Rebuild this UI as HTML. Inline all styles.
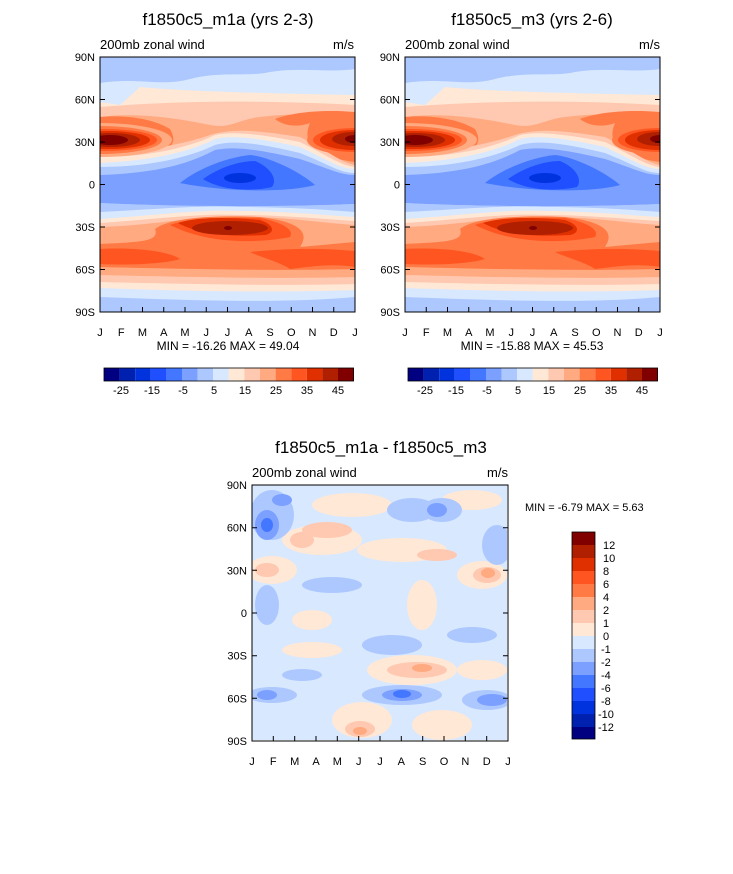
<!DOCTYPE html>
<html><head><style>
body{margin:0;background:#fff;}
svg text{font-family:"Liberation Sans",sans-serif;fill:#000;}
</style></head><body>
<svg width="733" height="869" xmlns="http://www.w3.org/2000/svg">
<defs>
<clipPath id="c1"><rect x="0" y="0" width="255" height="255"/></clipPath>
<g id="field">
 <rect x="0" y="0" width="255" height="255" fill="#adc8ff"/>
 <path d="M0,26 C40,20 60,30 90,22 C120,14 150,20 170,15 C200,10 230,16 255,12 V60 H0Z" fill="#d8e8ff"/>
 <path d="M0,45 L20,48 L40,30 C80,34 150,36 255,38 V80 H0Z" fill="#ffe8d6"/>
 <path d="M0,50 C60,45 150,42 255,48 V90 H0Z" fill="#ffc8b0"/>
 <path d="M0,60 C40,55 80,62 110,68 C130,72 140,62 160,60 C200,55 230,58 255,58 V110 H0Z" fill="#ffaa80"/>
 <path d="M0,60 C20,58 50,60 70,72 C80,90 70,100 0,103Z" fill="#ff7a45"/>
 <path d="M255,55 C220,52 190,56 175,62 C185,70 200,70 210,66 C200,90 220,100 255,105Z" fill="#ff7a45"/>
 <path d="M0,95 C50,95 90,85 110,78 C130,72 150,72 200,80 C230,95 240,105 255,108 V200 H0Z" fill="#ffc8b0"/>
 <path d="M0,100 C50,100 90,90 115,78 C130,75 150,75 200,85 C230,100 240,108 255,110 V200 H0Z" fill="#ffe8d6"/>
 <path d="M0,106 C50,104 90,95 115,82 C130,79 150,79 200,90 C230,104 240,112 255,112 V200 H0Z" fill="#d8e8ff"/>
 <path d="M0,110 C50,110 90,100 115,88 C130,84 150,84 200,96 C230,108 240,116 255,116 V200 H0Z" fill="#adc8ff"/>
 <path d="M0,118 C60,116 90,106 115,93 C130,90 150,90 200,102 C230,112 240,118 255,118 V147 C180,150 80,150 0,146Z" fill="#7ba0ff"/>
 <path d="M80,126 C100,110 130,100 150,98 C170,100 200,115 215,128 C190,135 130,136 80,126Z" fill="#4477ff"/>
 <path d="M103,122 C120,110 140,104 155,104 C170,110 178,122 172,130 C150,135 120,133 103,122Z" fill="#1f4fff"/>
 <ellipse cx="140" cy="121" rx="16" ry="5" fill="#0033dd"/>
 <ellipse cx="0" cy="83" rx="72" ry="17" fill="#ffaa80"/>
 <ellipse cx="0" cy="83" rx="62" ry="14" fill="#ff7a45"/>
 <ellipse cx="5" cy="83" rx="52" ry="11" fill="#ff5520"/>
 <ellipse cx="8" cy="83" rx="42" ry="9" fill="#e03000"/>
 <ellipse cx="10" cy="83" rx="30" ry="7" fill="#b02000"/>
 <ellipse cx="10" cy="83" rx="18" ry="5" fill="#800000"/>
 <ellipse cx="255" cy="83" rx="48" ry="15" fill="#ff7a45"/>
 <ellipse cx="255" cy="83" rx="42" ry="12" fill="#ff5520"/>
 <ellipse cx="255" cy="83" rx="35" ry="10" fill="#e03000"/>
 <ellipse cx="255" cy="82" rx="23" ry="7" fill="#b02000"/>
 <ellipse cx="255" cy="82" rx="10" ry="4" fill="#800000"/>
 <path d="M0,146 C80,150 180,150 255,147 V255 H0Z" fill="#adc8ff"/>
 <path d="M0,155 C60,152 100,148 140,150 C180,150 220,152 255,155 V255 H0Z" fill="#d8e8ff"/>
 <path d="M0,162 C60,158 100,152 140,154 C180,154 220,158 255,160 V255 H0Z" fill="#ffe8d6"/>
 <path d="M0,166 C60,162 100,156 140,158 C180,158 220,162 255,164 V255 H0Z" fill="#ffc8b0"/>
 <path d="M0,170 C60,168 80,160 140,160 C190,160 220,166 255,168 V255 H0Z" fill="#ffaa80"/>
 <path d="M55,172 C70,160 120,158 160,160 C200,165 210,175 200,190 L255,185 V215 H0 V187 C40,185 60,185 55,172Z" fill="#ff7a45"/>
 <path d="M0,192 C40,190 70,195 80,202 C60,208 20,208 0,207Z" fill="#ff5520"/>
 <path d="M150,195 C200,190 230,192 255,194 V210 C230,206 210,210 190,212 C180,205 160,200 150,195Z" fill="#ff5520"/>
 <path d="M70,168 C85,162 120,160 160,161 C180,165 195,172 190,180 C160,186 110,188 70,168Z" fill="#ff5520"/>
 <path d="M78,166 C95,160 130,160 160,163 C175,168 175,176 165,178 C130,180 100,178 78,166Z" fill="#e03000"/>
 <ellipse cx="130" cy="171" rx="38" ry="7" fill="#b02000"/>
 <ellipse cx="128" cy="171" rx="4" ry="2" fill="#800000"/>
 <path d="M0,210 C80,212 180,214 255,212 V255 H0Z" fill="#ffaa80"/>
 <path d="M0,218 C80,220 180,222 255,220 V255 H0Z" fill="#ffc8b0"/>
 <path d="M0,225 C80,227 180,229 255,227 V255 H0Z" fill="#ffe8d6"/>
 <path d="M0,231 C80,234 180,236 255,233 V255 H0Z" fill="#d8e8ff"/>
 <path d="M0,240 C80,243 180,247 255,240 V255 H0Z" fill="#adc8ff"/>
</g>
<g id="cb">
 <rect x="0" width="15.6" height="13" fill="#000080"/>
 <rect x="15.6" width="15.6" height="13" fill="#0020b0"/>
 <rect x="31.2" width="15.6" height="13" fill="#0033dd"/>
 <rect x="46.8" width="15.6" height="13" fill="#1f4fff"/>
 <rect x="62.4" width="15.6" height="13" fill="#4477ff"/>
 <rect x="78" width="15.6" height="13" fill="#7ba0ff"/>
 <rect x="93.6" width="15.6" height="13" fill="#adc8ff"/>
 <rect x="109.2" width="15.6" height="13" fill="#d8e8ff"/>
 <rect x="124.8" width="15.6" height="13" fill="#ffe8d6"/>
 <rect x="140.4" width="15.6" height="13" fill="#ffc8b0"/>
 <rect x="156" width="15.6" height="13" fill="#ffaa80"/>
 <rect x="171.6" width="15.6" height="13" fill="#ff7a45"/>
 <rect x="187.2" width="15.6" height="13" fill="#ff5520"/>
 <rect x="202.8" width="15.6" height="13" fill="#e03000"/>
 <rect x="218.4" width="15.6" height="13" fill="#b02000"/>
 <rect x="234" width="15.6" height="13" fill="#800000"/>
 <rect x="0" width="249.6" height="13" fill="none" stroke="#000" stroke-width="0.8"/>
</g>
</defs>

<text x="228" y="25" font-size="17" text-anchor="middle">f1850c5_m1a (yrs 2-3)</text>
<text x="100" y="49" font-size="13">200mb zonal wind</text>
<text x="354" y="49" font-size="13" text-anchor="end">m/s</text>
<g transform="translate(100,57)"><g clip-path="url(#c1)"><use href="#field"/></g>
<rect width="255" height="255" fill="none" stroke="#000"/></g>

<text x="532" y="25" font-size="17" text-anchor="middle">f1850c5_m3 (yrs 2-6)</text>
<text x="405" y="49" font-size="13">200mb zonal wind</text>
<text x="660" y="49" font-size="13" text-anchor="end">m/s</text>
<g transform="translate(405,57)"><g clip-path="url(#c1)"><use href="#field"/></g>
<rect width="255" height="255" fill="none" stroke="#000"/></g>

<g font-size="11">
<g id="axes1" transform="translate(100,57)">
 <g stroke="#000" stroke-width="1">
  <path d="M0,255v-5M21.25,255v-5M42.5,255v-5M63.75,255v-5M85,255v-5M106.25,255v-5M127.5,255v-5M148.75,255v-5M170,255v-5M191.25,255v-5M212.5,255v-5M233.75,255v-5M255,255v-5"/>
  <path d="M0,0h5M0,42.5h5M0,85h5M0,127.5h5M0,170h5M0,212.5h5M0,255h5M255,0h-5M255,42.5h-5M255,85h-5M255,127.5h-5M255,170h-5M255,212.5h-5M255,255h-5"/>
 </g>
 <g text-anchor="middle">
  <text x="0" y="279">J</text><text x="21.25" y="279">F</text><text x="42.5" y="279">M</text><text x="63.75" y="279">A</text><text x="85" y="279">M</text><text x="106.25" y="279">J</text><text x="127.5" y="279">J</text><text x="148.75" y="279">A</text><text x="170" y="279">S</text><text x="191.25" y="279">O</text><text x="212.5" y="279">N</text><text x="233.75" y="279">D</text><text x="255" y="279">J</text>
 </g>
 <g text-anchor="end">
  <text x="-5" y="4">90N</text><text x="-5" y="46.5">60N</text><text x="-5" y="89">30N</text><text x="-5" y="131.5">0</text><text x="-5" y="174">30S</text><text x="-5" y="216.5">60S</text><text x="-5" y="259">90S</text>
 </g>
</g>
<use href="#axes1" transform="translate(305,0)"/>
</g>

<text x="228" y="350" font-size="12" text-anchor="middle">MIN = -16.26 MAX =  49.04</text>
<text x="532" y="350" font-size="12" text-anchor="middle">MIN = -15.88 MAX =  45.53</text>
<use href="#cb" transform="translate(104,368)"/>
<use href="#cb" transform="translate(408,368)"/>
<g font-size="11" text-anchor="middle">
 <text x="121" y="394">-25</text><text x="152" y="394">-15</text><text x="183" y="394">-5</text><text x="214" y="394">5</text><text x="245" y="394">15</text><text x="276" y="394">25</text><text x="307" y="394">35</text><text x="338" y="394">45</text>
 <text x="425" y="394">-25</text><text x="456" y="394">-15</text><text x="487" y="394">-5</text><text x="518" y="394">5</text><text x="549" y="394">15</text><text x="580" y="394">25</text><text x="611" y="394">35</text><text x="642" y="394">45</text>
</g>

<text x="381" y="453" font-size="17" text-anchor="middle">f1850c5_m1a - f1850c5_m3</text>
<text x="252" y="477" font-size="13">200mb zonal wind</text>
<text x="508" y="477" font-size="13" text-anchor="end">m/s</text>
<g transform="translate(252,485)">
 <g clip-path="url(#c1)">
  <rect width="256" height="256" fill="#d8e8ff"/>
  <g fill="#ffe8d6">
   <ellipse cx="100" cy="20" rx="40" ry="12"/><ellipse cx="220" cy="15" rx="30" ry="10"/>
   <ellipse cx="70" cy="55" rx="40" ry="15"/><ellipse cx="150" cy="65" rx="45" ry="12"/>
   <ellipse cx="20" cy="85" rx="25" ry="14"/><ellipse cx="230" cy="90" rx="25" ry="14"/>
   <ellipse cx="170" cy="120" rx="15" ry="25"/><ellipse cx="60" cy="135" rx="20" ry="10"/>
   <ellipse cx="160" cy="185" rx="45" ry="15"/><ellipse cx="60" cy="165" rx="30" ry="8"/>
   <ellipse cx="110" cy="235" rx="30" ry="18"/><ellipse cx="190" cy="240" rx="30" ry="15"/>
   <ellipse cx="230" cy="185" rx="25" ry="10"/>
  </g>
  <g fill="#ffc8b0">
   <ellipse cx="75" cy="45" rx="25" ry="8"/><ellipse cx="185" cy="70" rx="20" ry="6"/>
   <ellipse cx="235" cy="90" rx="14" ry="8"/><ellipse cx="15" cy="85" rx="12" ry="7"/>
   <ellipse cx="165" cy="185" rx="30" ry="8"/><ellipse cx="108" cy="244" rx="15" ry="8"/>
   <ellipse cx="50" cy="55" rx="12" ry="8"/>
  </g>
  <g fill="#ffaa80"><ellipse cx="236" cy="88" rx="7" ry="5"/><ellipse cx="108" cy="246" rx="7" ry="4"/><ellipse cx="170" cy="183" rx="10" ry="4"/></g>
  <g fill="#adc8ff">
   <ellipse cx="20" cy="30" rx="22" ry="25"/><ellipse cx="160" cy="25" rx="25" ry="12"/>
   <ellipse cx="190" cy="25" rx="20" ry="12"/><ellipse cx="245" cy="60" rx="15" ry="20"/>
   <ellipse cx="80" cy="100" rx="30" ry="8"/><ellipse cx="15" cy="120" rx="12" ry="20"/>
   <ellipse cx="140" cy="160" rx="30" ry="10"/><ellipse cx="220" cy="150" rx="25" ry="8"/>
   <ellipse cx="20" cy="210" rx="25" ry="8"/><ellipse cx="150" cy="210" rx="40" ry="10"/>
   <ellipse cx="235" cy="215" rx="25" ry="10"/><ellipse cx="50" cy="190" rx="20" ry="6"/>
  </g>
  <g fill="#7ba0ff">
   <ellipse cx="15" cy="40" rx="12" ry="15"/><ellipse cx="185" cy="25" rx="10" ry="7"/>
   <ellipse cx="30" cy="15" rx="10" ry="6"/><ellipse cx="150" cy="210" rx="20" ry="6"/>
   <ellipse cx="240" cy="215" rx="15" ry="6"/><ellipse cx="15" cy="210" rx="10" ry="5"/>
  </g>
  <g fill="#4477ff"><ellipse cx="15" cy="40" rx="6" ry="7"/><ellipse cx="150" cy="209" rx="9" ry="4"/></g>
 </g>
 <rect width="256" height="256" fill="none" stroke="#000"/>
 <g stroke="#000" stroke-width="1">
  <path d="M0,256v-5M21.3,256v-5M42.7,256v-5M64,256v-5M85.3,256v-5M106.7,256v-5M128,256v-5M149.3,256v-5M170.7,256v-5M192,256v-5M213.3,256v-5M234.7,256v-5M256,256v-5"/>
  <path d="M0,0h5M0,42.7h5M0,85.3h5M0,128h5M0,170.7h5M0,213.3h5M0,256h5M256,0h-5M256,42.7h-5M256,85.3h-5M256,128h-5M256,170.7h-5M256,213.3h-5M256,256h-5"/>
 </g>
 <g font-size="11" text-anchor="middle">
  <text x="0" y="280">J</text><text x="21.3" y="280">F</text><text x="42.7" y="280">M</text><text x="64" y="280">A</text><text x="85.3" y="280">M</text><text x="106.7" y="280">J</text><text x="128" y="280">J</text><text x="149.3" y="280">A</text><text x="170.7" y="280">S</text><text x="192" y="280">O</text><text x="213.3" y="280">N</text><text x="234.7" y="280">D</text><text x="256" y="280">J</text>
 </g>
 <g font-size="11" text-anchor="end">
  <text x="-5" y="4">90N</text><text x="-5" y="46.7">60N</text><text x="-5" y="89.3">30N</text><text x="-5" y="132">0</text><text x="-5" y="174.7">30S</text><text x="-5" y="217.3">60S</text><text x="-5" y="260">90S</text>
 </g>
</g>
<text x="525" y="511" font-size="11">MIN =  -6.79 MAX =   5.63</text>

<g transform="translate(572,532)">
 <rect y="0" width="23" height="13" fill="#800000"/>
 <rect y="13" width="23" height="13" fill="#b02000"/>
 <rect y="26" width="23" height="13" fill="#e03000"/>
 <rect y="39" width="23" height="13" fill="#ff5520"/>
 <rect y="52" width="23" height="13" fill="#ff7a45"/>
 <rect y="65" width="23" height="13" fill="#ffaa80"/>
 <rect y="78" width="23" height="13" fill="#ffc8b0"/>
 <rect y="91" width="23" height="13" fill="#ffe8d6"/>
 <rect y="104" width="23" height="13" fill="#d8e8ff"/>
 <rect y="117" width="23" height="13" fill="#adc8ff"/>
 <rect y="130" width="23" height="13" fill="#7ba0ff"/>
 <rect y="143" width="23" height="13" fill="#4477ff"/>
 <rect y="156" width="23" height="13" fill="#1f4fff"/>
 <rect y="169" width="23" height="13" fill="#0033dd"/>
 <rect y="182" width="23" height="13" fill="#0020b0"/>
 <rect y="195" width="23" height="12" fill="#000080"/>
 <rect width="23" height="207" fill="none" stroke="#000" stroke-width="0.8"/>
 <g font-size="11">
  <text x="31" y="17">12</text><text x="31" y="30">10</text><text x="31" y="43">8</text><text x="31" y="56">6</text><text x="31" y="69">4</text><text x="31" y="82">2</text><text x="31" y="95">1</text><text x="31" y="108">0</text><text x="29" y="121">-1</text><text x="29" y="134">-2</text><text x="29" y="147">-4</text><text x="29" y="160">-6</text><text x="29" y="173">-8</text><text x="26" y="186">-10</text><text x="26" y="199">-12</text>
 </g>
</g>
</svg>
</body></html>
